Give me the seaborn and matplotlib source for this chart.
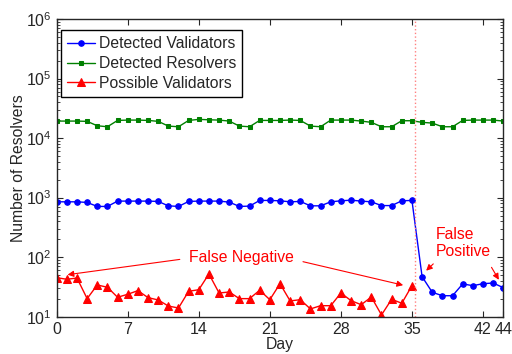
import numpy as np
import seaborn as sns
import matplotlib.pyplot as plt

# days of the measurement
days = list(range(45))
possible_days = list(range(36))

# detected resolvers (green squares)
resolvers = [19300, 19300, 19300, 19100, 16100, 15500, 19800, 20050, 20050, 19800,
             19100, 15900, 15500, 19800, 20600, 20300, 20050, 19300, 15900, 15500,
             19800, 19800, 19800, 20050, 19800, 15900, 15500, 20050, 20050, 20050,
             19300, 18370, 15500, 15500, 19560, 19560, 18370, 17870, 15500, 15500,
             19800, 20050, 20050, 20050, 19300]

# detected validators (blue circles)
validators = [850, 850, 850, 830, 711, 711, 874, 874, 874, 874,
              863, 728, 711, 863, 874, 874, 874, 840, 711, 720,
              897, 897, 884, 850, 863, 728, 728, 850, 884, 906,
              874, 850, 735, 735, 884, 897, 47, 25.7, 22.5, 22.5,
              35.5, 33.2, 35.8, 36.8, 30.7]

# possible validators (red triangles), only up to day 35
possible = [45.2, 42.5, 44.6, 20.1, 34.1, 31.2, 21.2, 23.8, 27.4, 20.9,
            19.1, 15.1, 14.0, 26.7, 28.4, 52.2, 25.0, 26.0, 20.1, 20.1,
            27.8, 19.3, 35.8, 18.4, 19.3, 13.5, 15.3, 15.3, 25.0, 18.6,
            15.9, 21.4, 10.7, 19.6, 16.8, 33.2]

xtick_vals = [0, 7, 14, 21, 28, 35, 42, 44]

sns.set_style("ticks")
plt.rcParams['font.family'] = ['Liberation Sans', 'DejaVu Sans']
plt.rcParams['mathtext.default'] = 'regular'
plt.rcParams['font.size'] = 11.3

fig = plt.figure(figsize=(5.12, 3.54), dpi=100)
ax = fig.add_axes([0.1107, 0.1054, 0.8723, 0.8409])

sns.lineplot(x=days, y=validators, ax=ax, color='#0000ff', marker='o', markersize=4,
             markeredgecolor='#0000ff', linewidth=1, label='Detected Validators')
sns.lineplot(x=days, y=resolvers, ax=ax, color='#008000', marker='s', markersize=3.5,
             markeredgecolor='#008000', linewidth=1, label='Detected Resolvers')
sns.lineplot(x=possible_days, y=possible, ax=ax, color='#ff0000', marker='^', markersize=5.5,
             markeredgecolor='#ff0000', linewidth=1, label='Possible Validators')

ax.axvline(35.3, color='#ff8080', linestyle=':', linewidth=1)

ax.set_yscale('log')
ax.set_ylim(10, 1e6)
ax.set_xlim(0, 44)
ax.set_xticks(xtick_vals)
ax.set_xlabel('Day', labelpad=0, fontsize=11.3)
ax.set_ylabel('Number of Resolvers', fontsize=11.3, labelpad=0)
ax.tick_params(which='both', direction='in', top=True, right=True, labelsize=11.5)
ax.tick_params(which='major', length=4)
ax.tick_params(which='minor', length=2)
ax.tick_params(axis='x', which='minor', top=False, bottom=False)
for s in ax.spines.values():
    s.set_linewidth(1)

leg = ax.legend(loc='upper left', bbox_to_anchor=(0.0096, 0.963), borderaxespad=0,
                fancybox=False, framealpha=1, edgecolor='black', borderpad=0.4,
                labelspacing=0.3, handlelength=1.8, handletextpad=0.2, fontsize=11.3)
leg.get_frame().set_linewidth(1)

arrow = dict(arrowstyle='-|>', color='#ff0000', lw=0.8, mutation_scale=9)
ax.text(18.25, 97, 'False Negative', color='#ff0000', ha='center', va='center', fontsize=11.3)
ax.annotate('', xy=(0.8, 50), xytext=(12.4, 93), arrowprops=arrow)
ax.annotate('', xy=(34.4, 33), xytext=(24.0, 86), arrowprops=arrow)
ax.text(40.1, 175, 'False\nPositive', color='#ff0000', ha='center', va='center',
        fontsize=11.3, linespacing=1.15, multialignment='left')
ax.annotate('', xy=(36.2, 55), xytext=(37.3, 83), arrowprops=arrow)
ax.annotate('', xy=(43.7, 38), xytext=(42.7, 74), arrowprops=arrow)

fig.savefig('out.png', dpi=100)
